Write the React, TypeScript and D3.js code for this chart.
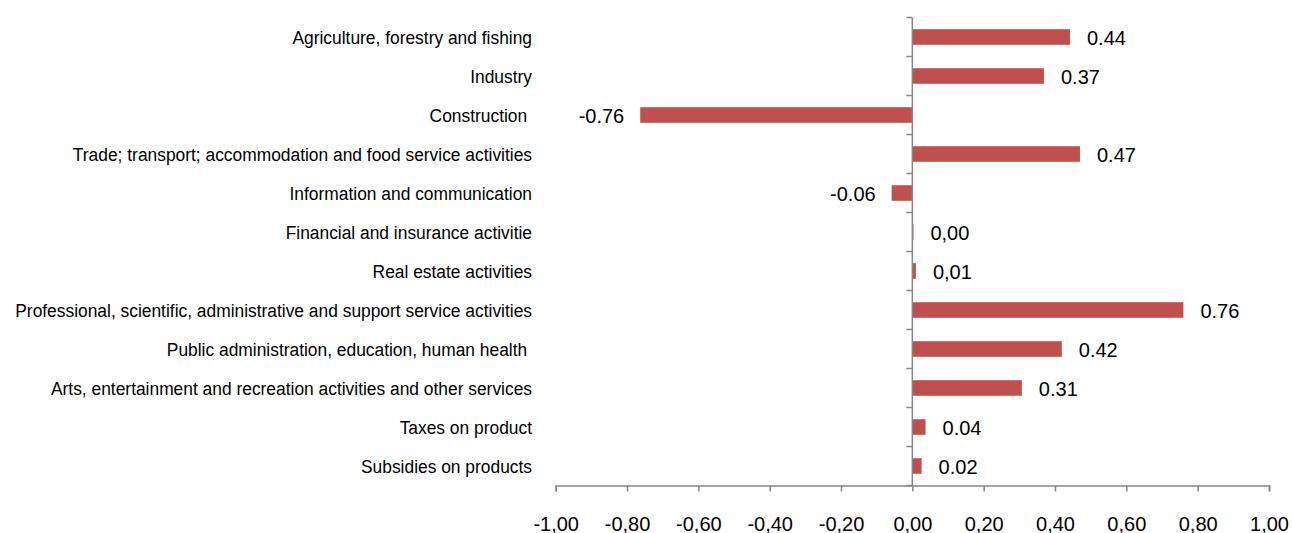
import React, { useEffect, useRef } from 'react';
import * as d3 from 'd3';

const categories = [
  'Agriculture, forestry and fishing',
  'Industry',
  'Construction ',
  'Trade; transport; accommodation and food service activities',
  'Information and communication',
  'Financial and insurance activitie',
  'Real estate activities',
  'Professional, scientific, administrative and support service activities',
  'Public administration, education, human health ',
  'Arts, entertainment and recreation activities and other services',
  'Taxes on product',
  'Subsidies on products',
];

const values = [0.442, 0.369, -0.763, 0.47, -0.058, 0.003, 0.01, 0.76, 0.419, 0.307, 0.037, 0.026];

const valueLabels = ['0.44', '0.37', '-0.76', '0.47', '-0.06', '0,00', '0,01', '0.76', '0.42', '0.31', '0.04', '0.02'];

const tickValues = [-1, -0.8, -0.6, -0.4, -0.2, 0, 0.2, 0.4, 0.6, 0.8, 1];
const tickLabels = ['-1,00', '-0,80', '-0,60', '-0,40', '-0,20', '0,00', '0,20', '0,40', '0,60', '0,80', '1,00'];

const width = 1292;
const height = 533;
const axisColor = '#868686';
const barColor = '#C0504D';

export default function App() {
  const ref = useRef<SVGSVGElement>(null);

  useEffect(() => {
    const svg = d3.select(ref.current);
    svg.selectAll('*').remove();

    const x = d3.scaleLinear().domain([-1, 1]).range([555.7, 1269]);
    const y = d3.scaleBand<string>()
      .domain(categories)
      .range([17.5, 485.5])
      .paddingInner(0.6)
      .paddingOuter(0.3);

    const x0 = x(0);
    const step = y.step();
    const top = 17.5;
    const bottom = 485.5;

    // bars
    svg.append('g')
      .selectAll('rect')
      .data(values)
      .join('rect')
      .attr('x', d => Math.min(x(d), x0))
      .attr('y', (d, i) => y(categories[i])!)
      .attr('width', d => Math.abs(x(d) - x0))
      .attr('height', y.bandwidth())
      .attr('fill', barColor);

    // value labels
    svg.append('g')
      .selectAll('text')
      .data(values)
      .join('text')
      .attr('x', d => d < 0 ? x(d) - 16 : x(d) + 17)
      .attr('y', (d, i) => y(categories[i])! + y.bandwidth() / 2 + 7.5)
      .attr('text-anchor', d => d < 0 ? 'end' : 'start')
      .attr('font-family', 'Liberation Sans, Arial, sans-serif')
      .attr('font-size', 20)
      .attr('fill', '#000')
      .text((d, i) => valueLabels[i]);

    // category labels (narrow look: squeezed horizontally)
    svg.append('g')
      .selectAll('text')
      .data(categories)
      .join('text')
      .attr('transform', d => `translate(532, ${y(d)! + y.bandwidth() / 2 + 7}) scale(0.915, 1)`)
      .attr('text-anchor', 'end')
      .attr('font-family', 'Liberation Sans, Arial, sans-serif')
      .attr('font-size', 19)
      .style('white-space', 'pre')
      .attr('fill', '#000')
      .text(d => d);

    // vertical axis with category ticks
    const vAxis = svg.append('g').attr('stroke', axisColor).attr('stroke-width', 1.5);
    vAxis.append('line')
      .attr('x1', x0).attr('x2', x0)
      .attr('y1', top).attr('y2', bottom);
    vAxis.selectAll('line.tick')
      .data(d3.range(categories.length + 1))
      .join('line')
      .attr('class', 'tick')
      .attr('x1', x0 - 6).attr('x2', x0)
      .attr('y1', i => top + i * step)
      .attr('y2', i => top + i * step);

    // horizontal axis
    const xAxis = d3.axisBottom(x)
      .tickValues(tickValues)
      .tickSize(6)
      .tickSizeOuter(6)
      .tickFormat((d, i) => tickLabels[i]);

    const gx = svg.append('g')
      .attr('transform', `translate(0, ${bottom})`)
      .call(xAxis);
    gx.select('.domain').attr('stroke', axisColor).attr('stroke-width', 1.5);
    gx.selectAll('.tick line').attr('stroke', axisColor).attr('stroke-width', 1.5);
    gx.selectAll('.tick text')
      .attr('fill', '#000')
      .attr('font-family', 'Liberation Sans, Arial, sans-serif')
      .attr('font-size', 20)
      .attr('dy', null)
      .attr('y', 45);
  }, []);

  return (
    <svg
      ref={ref}
      width={width}
      height={height}
      style={{ position: 'absolute', left: 0, top: 0, background: '#fff' }}
    />
  );
}
